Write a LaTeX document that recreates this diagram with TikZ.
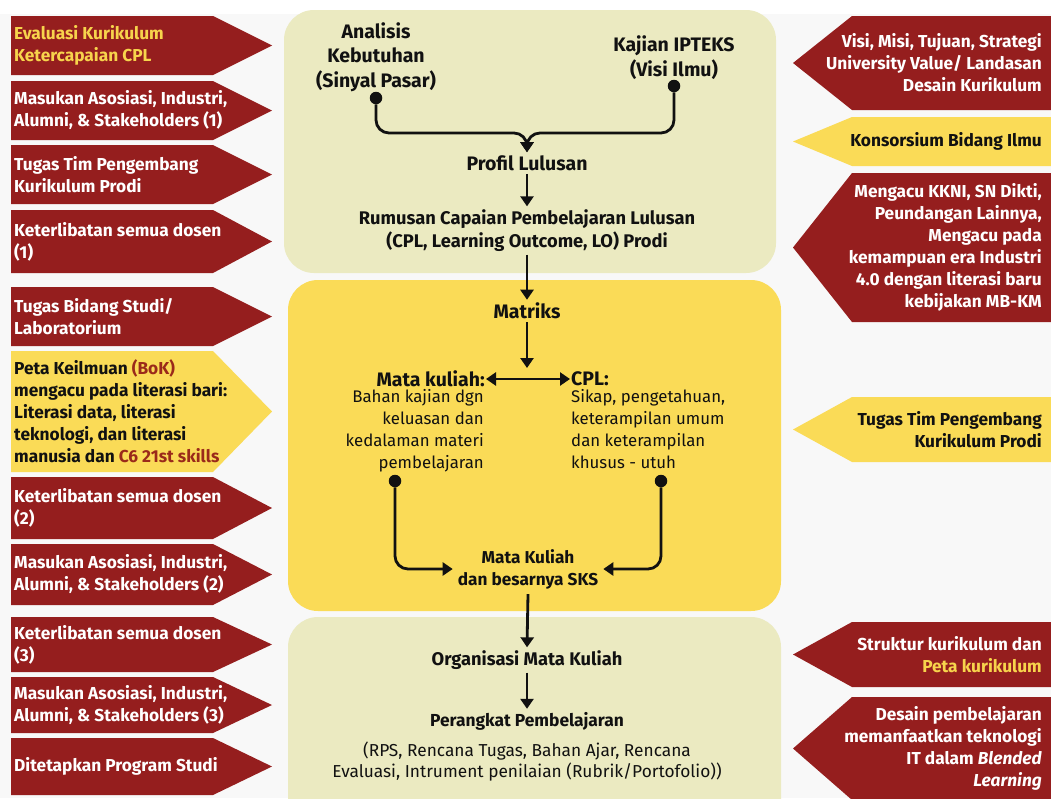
\documentclass[tikz,border=0pt]{standalone}
\usepackage{fontspec}
\setmainfont{Fira Sans}
\usetikzlibrary{arrows.meta}

\definecolor{wine}{HTML}{951E1E}
\definecolor{sun}{HTML}{FADB57}
\definecolor{pale}{HTML}{EBEAC1}
\definecolor{gold}{HTML}{F7D44C}
\definecolor{brick}{HTML}{9A2A1A}
\definecolor{paper}{HTML}{F8F8F8}
\definecolor{ink}{HTML}{111111}

\tikzset{
  sidetext/.style={inner sep=0pt, font=\fontsize{17.3}{22}\selectfont\bfseries},
  ltext/.style={sidetext, anchor=west, align=left, text=white},
  rtext/.style={sidetext, anchor=east, align=right, text=white},
  band/.style={rounded corners=30pt},
  head/.style={inner sep=3pt, align=center, text=ink, font=\fontsize{19.5}{24.5}\selectfont\bfseries},
  subhead/.style={head, font=\fontsize{18.3}{23}\selectfont\bfseries},
  plain/.style={inner sep=3pt, text=ink, font=\fontsize{16.8}{22}\selectfont},
  wire/.style={draw=ink, line width=2.8pt, rounded corners=13pt},
  flow/.style={wire, -{Triangle[width=13pt,length=10pt]}},
  twoway/.style={wire, {Triangle[width=13pt,length=10pt]}-{Triangle[width=13pt,length=10pt]}},
  dot/.style={circle, fill=ink, inner sep=0pt, minimum size=12.5pt},
}

% arrow-shaped sign pointing right: name, top, bottom, fill, text
\newcommand{\signright}[5]{%
  \fill[#4] (11,#2) -- (213,#2) -- (272,{(#2+#3)/2}) -- (213,#3) -- (11,#3) -- cycle;
  \node[ltext] (#1) at (14,{(#2+#3)/2}) {#5};}
% arrow-shaped sign pointing left: name, top, bottom, fill, text
\newcommand{\signleft}[5]{%
  \fill[#4] (1051,#2) -- (852,#2) -- (793,{(#2+#3)/2}) -- (852,#3) -- (1051,#3) -- cycle;
  \node[rtext] (#1) at (1042,{(#2+#3)/2}) {#5};}

\begin{document}
\begin{tikzpicture}[x=1pt,y=-1pt]
\useasboundingbox (0,0) rectangle (1051,798);
\fill[white] (0,0) rectangle (1051,798);
\fill[paper] (0,14) rectangle (1051,798);

% stage bands
\fill[pale, band] (284,10) rectangle (776,273);
\fill[sun, band] (288,280) rectangle (781,611);
\fill[pale, band] (288,617) rectangle (781,830);

% left column
\signright{l1}{16}{75}{wine}{\color{gold}Evaluasi Kurikulum\\\color{gold}Ketercapaian CPL}
\signright{l2}{81}{140}{wine}{Masukan Asosiasi, Industri,\\Alumni, \& Stakeholders (1)}
\signright{l3}{145}{204}{wine}{Tugas Tim Pengembang\\Kurikulum Prodi}
\signright{l4}{210}{273}{wine}{Keterlibatan semua dosen\\(1)}
\signright{l5}{287}{346}{wine}{Tugas Bidang Studi/\\Laboratorium}
\signright{l6}{351}{472}{sun}{\color{ink}Peta Keilmuan \textcolor{brick}{(BoK)}\\\color{ink}mengacu pada literasi bari:\\\color{ink}Literasi data, literasi\\\color{ink}teknologi, dan literasi\\\color{ink}manusia dan \textcolor{brick}{C6 21st skills}}
\signright{l7}{477}{539}{wine}{Keterlibatan semua dosen\\(2)}
\signright{l8}{544}{605}{wine}{Masukan Asosiasi, Industri,\\Alumni, \& Stakeholders (2)}
\signright{l9}{617}{672}{wine}{Keterlibatan semua dosen\\(3)}
\signright{l10}{677}{733}{wine}{Masukan Asosiasi, Industri,\\Alumni, \& Stakeholders (3)}
\signright{l11}{738}{795}{wine}{Ditetapkan Program Studi}

% right column
\signleft{r1}{16}{110}{wine}{Visi, Misi, Tujuan, Strategi\\University Value/ Landasan\\Desain Kurikulum}
\signleft{r2}{117}{166}{sun}{\color{ink}Konsorsium Bidang Ilmu}
\signleft{r3}{173}{322}{wine}{Mengacu KKNI, SN Dikti,\\Peundangan Lainnya,\\Mengacu pada\\kemampuan era Industri\\4.0 dengan literasi baru\\kebijakan MB-KM}
\signleft{r4}{397}{462}{sun}{\color{ink}Tugas Tim Pengembang\\\color{ink}Kurikulum Prodi}
\signleft{r5}{622}{687}{wine}{Struktur kurikulum dan \\\color{gold}Peta kurikulum}
\signleft{r6}{697}{800}{wine}{Desain pembelajaran\\memanfaatkan teknologi\\IT dalam \textit{Blended}\\\textit{Learning}}

% first band: needs analysis and science review
\node[head] (ana) at (376,57) {Analisis\\Kebutuhan\\(Sinyal Pasar)};
\node[head] (ipt) at (674,57.5) {Kajian IPTEKS\\(Visi Ilmu)};
\node[dot] (anadot) at (376,98) {};
\node[dot] (iptdot) at (674,86) {};
\node[head] (pro) at (527,163) {Profil Lulusan};
\coordinate (join) at (527,133);
\draw[flow] (anadot) |- (join) -- (pro.north);
\draw[flow] (iptdot) |- (join) -- (pro.north);
\node[subhead] (cpl0) at (527,230.5)
  {Rumusan Capaian Pembelajaran Lulusan\\(CPL, Learning Outcome, LO) Prodi};
\draw[flow] (pro.south) -- (cpl0.north);

% second band: matrix
\node[head] (mat) at (527,311) {Matriks};
\draw[flow] (cpl0.south) -- (mat.north);
\coordinate (split) at (527,368);
\draw[flow] (mat.south) -- (split);
\node[head, anchor=east, inner sep=1pt] (mk) at (486,379) {Mata kuliah:};
\node[head, anchor=west, inner sep=1pt] (cpl) at (570,379) {CPL:};
\draw[twoway] (mk.east) -- (cpl.west);
\node[plain, anchor=north east, align=right, inner sep=0pt] (mkd) at (484,389)
  {Bahan kajian dgn\\keluasan dan\\kedalaman materi\\pembelajaran};
\node[plain, anchor=north west, align=left, inner sep=0pt] (cpld) at (571,389)
  {Sikap, pengetahuan,\\keterampilan umum\\dan keterampilan\\khusus - utuh};
\node[dot] (mkdot) at (395,481) {};
\node[dot] (cpldot) at (661,481) {};
\node[head, font=\fontsize{17.2}{22}\selectfont\bfseries, inner sep=5pt] (sks) at (528,569)
  {Mata Kuliah\\dan besarnya SKS};
\draw[flow] (mkdot) |- (sks.west);
\draw[flow] (cpldot) |- (sks.east);

% third band: course organisation
\node[subhead] (org) at (527,660) {Organisasi Mata Kuliah};
\draw[flow] (sks.south) -- (org.north);
\node[head, font=\fontsize{17.4}{22}\selectfont\bfseries] (per) at (527,721) {Perangkat Pembelajaran};
\draw[flow] (org.south) -- (per.north);
\node[plain, font=\fontsize{17.3}{21}\selectfont, align=center] (perd) at (527,762)
  {(RPS, Rencana Tugas, Bahan Ajar, Rencana\\Evaluasi, Intrument penilaian (Rubrik/Portofolio))};
\end{tikzpicture}
\end{document}
